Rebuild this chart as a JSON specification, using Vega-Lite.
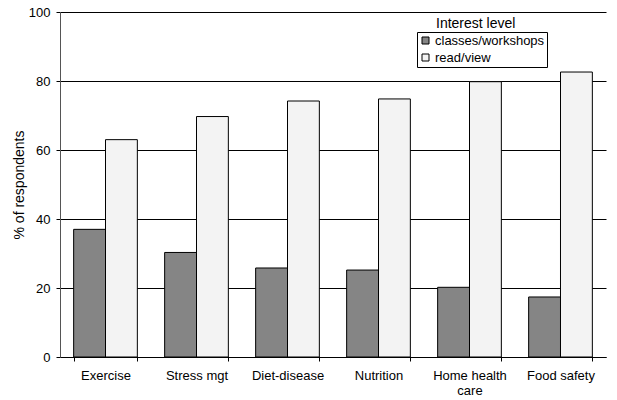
{
  "$schema": "https://vega.github.io/schema/vega-lite/v6.json",
  "width": 546,
  "height": 345,
  "autosize": {"type": "none"},
  "padding": {"left": 60, "top": 12, "right": 11, "bottom": 43},
  "background": "white",
  "config": {
    "font": "Liberation Sans",
    "view": {"stroke": null},
    "axis": {"labelColor": "black", "titleColor": "black", "labelFont": "Liberation Sans", "titleFont": "Liberation Sans"}
  },
  "title": {
    "text": "Interest level",
    "anchor": "start",
    "frame": "group",
    "dx": 376,
    "dy": 25,
    "offset": 0,
    "baseline": "top",
    "fontSize": 14,
    "fontWeight": "normal",
    "font": "Liberation Sans",
    "color": "black"
  },
  "data": {
    "values": [
      {"category": "Exercise", "level": "classes/workshops", "value": 37.0},
      {"category": "Exercise", "level": "read/view", "value": 63.0},
      {"category": "Stress mgt", "level": "classes/workshops", "value": 30.3},
      {"category": "Stress mgt", "level": "read/view", "value": 69.7},
      {"category": "Diet-disease", "level": "classes/workshops", "value": 25.8},
      {"category": "Diet-disease", "level": "read/view", "value": 74.2},
      {"category": "Nutrition", "level": "classes/workshops", "value": 25.2},
      {"category": "Nutrition", "level": "read/view", "value": 74.8},
      {"category": "Home health care", "level": "classes/workshops", "value": 20.2},
      {"category": "Home health care", "level": "read/view", "value": 79.8},
      {"category": "Food safety", "level": "classes/workshops", "value": 17.4},
      {"category": "Food safety", "level": "read/view", "value": 82.6}
    ]
  },
  "mark": {"type": "bar", "stroke": "black", "strokeWidth": 1},
  "encoding": {
    "x": {
      "field": "category",
      "type": "nominal",
      "sort": ["Exercise", "Stress mgt", "Diet-disease", "Nutrition", "Home health care", "Food safety"],
      "scale": {"paddingInner": 0.3, "paddingOuter": 0.15},
      "axis": {
        "title": null,
        "labelAngle": 0,
        "tickBand": "extent",
        "domainColor": "black",
        "tickColor": "black",
        "tickSize": 4,
        "labelPadding": 8,
        "labelFontSize": 13,
        "labelLineHeight": 15,
        "labelExpr": "datum.label == 'Home health care' ? ['Home health', 'care'] : datum.label"
      }
    },
    "xOffset": {"field": "level", "type": "nominal", "sort": ["classes/workshops", "read/view"]},
    "y": {
      "field": "value",
      "type": "quantitative",
      "scale": {"domain": [0, 100]},
      "axis": {
        "title": "% of respondents",
        "titleFontSize": 14,
        "titleFontWeight": "normal",
        "titlePadding": 2,
        "values": [0, 20, 40, 60, 80, 100],
        "grid": true,
        "gridColor": "black",
        "gridOpacity": 1,
        "domainColor": "#555555",
        "tickColor": "black",
        "tickSize": 4,
        "labelPadding": 6,
        "labelFontSize": 13
      }
    },
    "fill": {
      "field": "level",
      "type": "nominal",
      "scale": {"domain": ["classes/workshops", "read/view"], "range": ["#858585", "#f3f3f3"]},
      "legend": {
        "title": null,
        "orient": "none",
        "legendX": 357,
        "legendY": 20,
        "direction": "vertical",
        "strokeColor": "black",
        "fillColor": "white",
        "padding": 2,
        "symbolType": "square",
        "symbolSize": 49,
        "symbolStrokeColor": "black",
        "symbolStrokeWidth": 1,
        "labelFontSize": 13,
        "labelColor": "black",
        "labelOffset": 3,
        "rowPadding": 3
      }
    }
  }
}
